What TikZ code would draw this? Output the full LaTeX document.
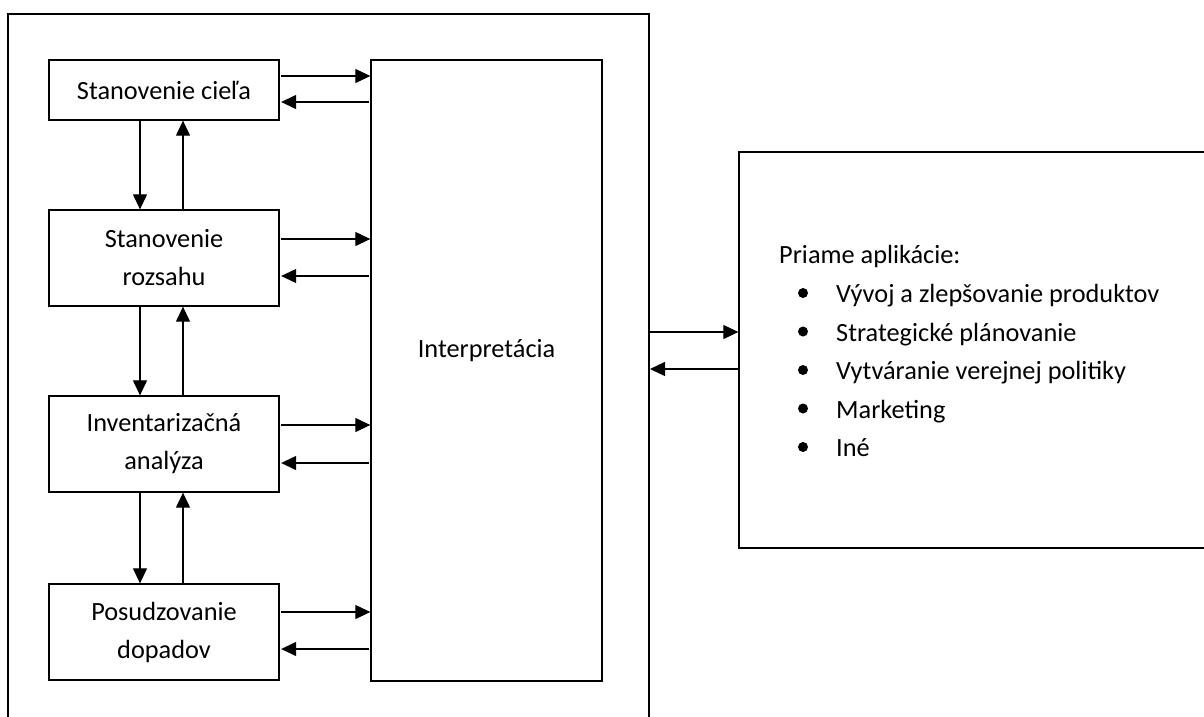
\documentclass[tikz,border=0pt]{standalone}
\usepackage{fontspec}
\setmainfont{Carlito}
\usetikzlibrary{arrows.meta}
\begin{document}
\begin{tikzpicture}[x=1pt,y=-1pt,
  every node/.style={font=\fontsize{26.3}{38}\selectfont, inner sep=0pt},
  stage/.style={draw, line width=1.3pt, minimum width=230pt, align=center},
  panel/.style={draw, line width=1.3pt},
  conn/.style={line width=1.2pt, -{Triangle[length=15pt,width=14pt]}},
  tobox/.style={conn, shorten <=1.5pt},
  frombox/.style={conn, shorten <=1pt, shorten >=1.5pt},
  bulletdot/.style={circle, fill, minimum size=10pt},
]
\useasboundingbox (0,0) rectangle (1204,716);

% open frame around the assessment phases
\coordinate (frameTL) at (8,14);
\coordinate (frameTR) at (649,14);
\draw[line width=2pt] (frameTL |- 0,720) -- (frameTL) -- (frameTR) -- (frameTR |- 0,720);

% phases
\node[stage, minimum height=60pt] (goal) at (164,90) {Stanovenie cieľa};
\node[stage, minimum height=96pt] (scope) at (164,258) {Stanovenie\\rozsahu};
\node[stage, minimum height=96pt] (inv) at (164,444) {Inventarizačná\\analýza};
\node[stage, minimum height=96pt] (impact) at (164,632) {Posudzovanie\\dopadov};

% interpretation
\node[panel, minimum width=231pt, minimum height=621pt] (interp) at (486.5,370.5) {};
\node[anchor=base] (interpT) at (486.5,357) {Interpretácia};

% applications
\node[panel, minimum width=467pt, minimum height=396pt] (apps) at (972.5,350) {};
\node[anchor=base west] (appsT) at (779,263) {Priame aplikácie:};
\foreach \i/\t [count=\k from 0] in {a/Vývoj a zlepšovanie produktov,
                                      b/Strategické plánovanie,
                                      c/Vytváranie verejnej politiky,
                                      d/Marketing,
                                      e/Iné}{
  \node[bulletdot] (dot\i) at (803,{293+38.5*\k}) {};
  \node[anchor=base west] (item\i) at (836,{302.5+38.5*\k}) {\t};
}

% vertical links between phases
\draw[conn] (goal.south -| 140,0) -- (scope.north -| 140,0);
\draw[conn] (scope.north -| 183,0) -- (goal.south -| 183,0);
\draw[conn] (scope.south -| 140,0) -- (inv.north -| 140,0);
\draw[conn] (inv.north -| 183,0) -- (scope.south -| 183,0);
\draw[conn] (inv.south -| 140,0) -- (impact.north -| 140,0);
\draw[conn] (impact.north -| 183,0) -- (inv.south -| 183,0);

% links between phases and interpretation
\draw[tobox]   (goal.east |- 0,76)    -- (interp.west |- 0,76);
\draw[frombox] (interp.west |- 0,102) -- (goal.east |- 0,102);
\draw[tobox]   (scope.east |- 0,239)  -- (interp.west |- 0,239);
\draw[frombox] (interp.west |- 0,276) -- (scope.east |- 0,276);
\draw[tobox]   (inv.east |- 0,425)    -- (interp.west |- 0,425);
\draw[frombox] (interp.west |- 0,463) -- (inv.east |- 0,463);
\draw[tobox]   (impact.east |- 0,612) -- (interp.west |- 0,612);
\draw[frombox] (interp.west |- 0,649) -- (impact.east |- 0,649);

% links between the frame and the applications
\draw[conn, shorten <=1pt] (frameTR |- 0,332) -- (apps.west |- 0,332);
\draw[conn, shorten >=1pt] (apps.west |- 0,369) -- (frameTR |- 0,369);
\end{tikzpicture}
\end{document}
